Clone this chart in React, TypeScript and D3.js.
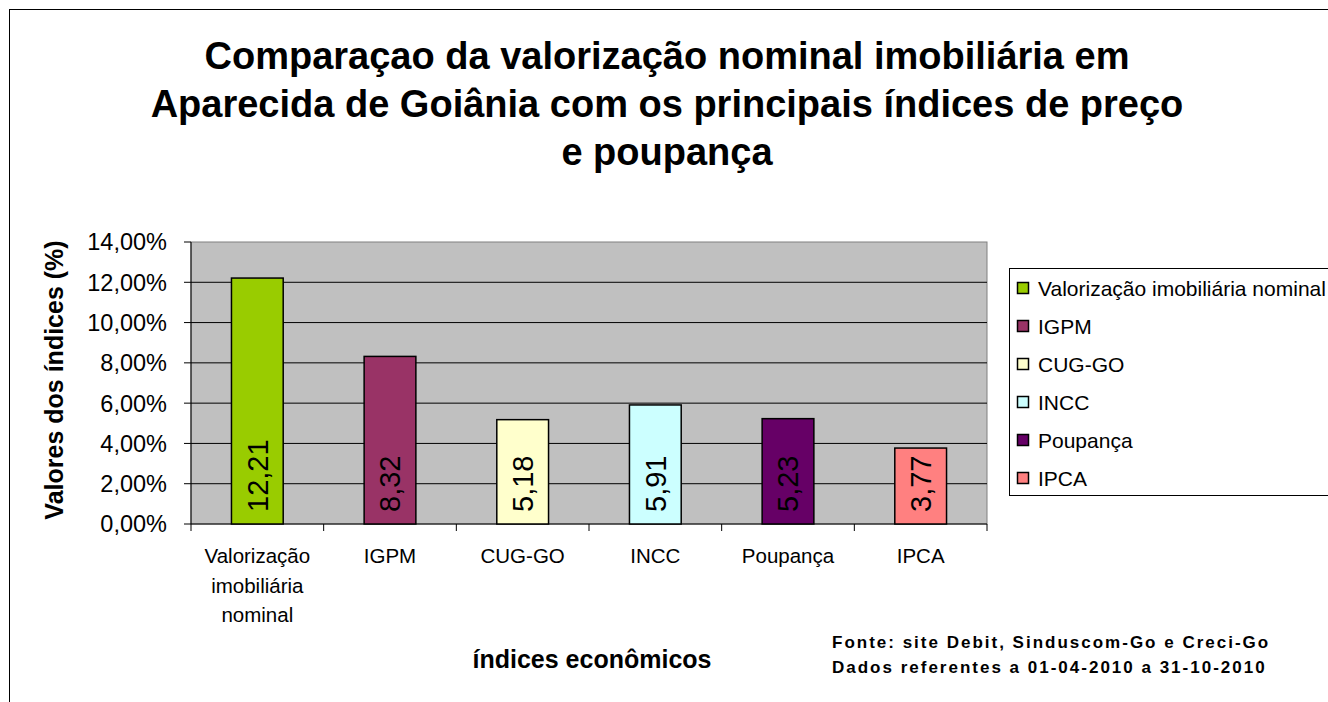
import React from "react";
import * as d3 from "d3";

// valores (em %)
const categories = ["Valorização imobiliária nominal", "IGPM", "CUG-GO", "INCC", "Poupança", "IPCA"];
const axisLabels = [["Valorização", "imobiliária", "nominal"], ["IGPM"], ["CUG-GO"], ["INCC"], ["Poupança"], ["IPCA"]];
const values = [12.21, 8.32, 5.18, 5.91, 5.23, 3.77];
const colors = ["#99CC00", "#993366", "#FFFFCC", "#CCFFFF", "#660066", "#FF8080"];
const yTicks = [0, 2, 4, 6, 8, 10, 12, 14];
const titleLines = [
  "Comparaçao da valorização nominal imobiliária em",
  "Aparecida de Goiânia com os principais índices de preço",
  "e poupança",
];
const sourceLines = [
  "Fonte: site Debit, Sinduscom-Go e Creci-Go",
  "Dados referentes a 01-04-2010 a 31-10-2010",
];

const ptBR = d3.formatLocale({ decimal: ",", thousands: ".", grouping: [3], currency: ["R$", ""] });
const fmt = ptBR.format(".2f");

const App = () => {
  const W = 1328;
  const H = 702;
  const plot = { left: 191, right: 987, top: 242, bottom: 524 };

  const x = d3.scaleBand().domain(categories).range([plot.left, plot.right]).paddingInner(0.61).paddingOuter(0.305);
  const y = d3.scaleLinear().domain([0, 14]).range([plot.bottom, plot.top]);
  const step = x.step();
  const font = "'Liberation Sans', Arial, sans-serif";

  return (
    <svg width={W} height={H} style={{ position: "absolute", left: 0, top: 0, background: "#fff" }} fontFamily={font}>
      <rect x={9.5} y={9.5} width={W + 20} height={H + 20} fill="#fff" stroke="#000" />

      {/* título */}
      <text textAnchor="middle" fontWeight="bold" fontSize={38}>
        {titleLines.map((l, i) => (
          <tspan key={i} x={667} y={69 + i * 48}>{l}</tspan>
        ))}
      </text>

      {/* área do gráfico */}
      <rect x={plot.left} y={plot.top} width={plot.right - plot.left} height={plot.bottom - plot.top} fill="#C0C0C0" stroke="#808080" />
      {yTicks.map((t) => (
        <g key={t}>
          {t > 0 && t < 14 && <line x1={plot.left} x2={plot.right} y1={y(t)} y2={y(t)} stroke="#000" />}
          <line x1={plot.left - 7} x2={plot.left} y1={y(t)} y2={y(t)} stroke="#000" />
          <text x={167} y={y(t)} dy="0.36em" textAnchor="end" fontSize={23.5}>{fmt(t) + "%"}</text>
        </g>
      ))}
      <line x1={plot.left} x2={plot.left} y1={plot.top} y2={plot.bottom} stroke="#000" />
      <line x1={plot.left} x2={plot.right} y1={plot.bottom} y2={plot.bottom} stroke="#000" />
      {d3.range(categories.length + 1).map((i) => (
        <line key={i} x1={plot.left + i * step} x2={plot.left + i * step} y1={plot.bottom} y2={plot.bottom + 7} stroke="#000" />
      ))}

      {/* barras */}
      {categories.map((c, i) => {
        const bx = x(c) as number;
        return (
          <g key={c}>
            <rect x={bx} y={y(values[i])} width={x.bandwidth()} height={y(0) - y(values[i])} fill={colors[i]} stroke="#000" strokeWidth={1.5} />
            <text transform={`translate(${bx + x.bandwidth() / 2},${plot.bottom - 12}) rotate(-90)`} dy="0.36em" fontSize={29} fill="#000">
              {fmt(values[i])}
            </text>
          </g>
        );
      })}

      {/* rótulos do eixo x */}
      {categories.map((c, i) => (
        <text key={c} textAnchor="middle" fontSize={20.5}>
          {axisLabels[i].map((l, j) => (
            <tspan key={j} x={(x(c) as number) + x.bandwidth() / 2} y={563 + j * 29.5}>{l}</tspan>
          ))}
        </text>
      ))}

      {/* títulos dos eixos */}
      <text transform={`translate(54,${(plot.top + plot.bottom) / 2 - 3}) rotate(-90)`} dy="0.36em" textAnchor="middle" fontWeight="bold" fontSize={25}>
        Valores dos índices (%)
      </text>
      <text x={592} y={668} textAnchor="middle" fontWeight="bold" fontSize={25}>índices econômicos</text>

      {/* legenda */}
      <rect x={1009.5} y={268.5} width={340} height={227} fill="#fff" stroke="#000" />
      {categories.map((c, i) => (
        <g key={c} transform={`translate(1017,${288 + i * 38})`}>
          <rect x={0.5} y={-5.5} width={11} height={11} fill={colors[i]} stroke="#000" strokeWidth={1.5} />
          <text x={21} y={0} dy="0.36em" fontSize={21}>{c}</text>
        </g>
      ))}

      {/* fonte */}
      <text fontWeight="bold" fontSize={17} letterSpacing={2}>
        {sourceLines.map((l, i) => (
          <tspan key={i} x={832} y={648 + i * 25}>{l}</tspan>
        ))}
      </text>
    </svg>
  );
};

export default App;
